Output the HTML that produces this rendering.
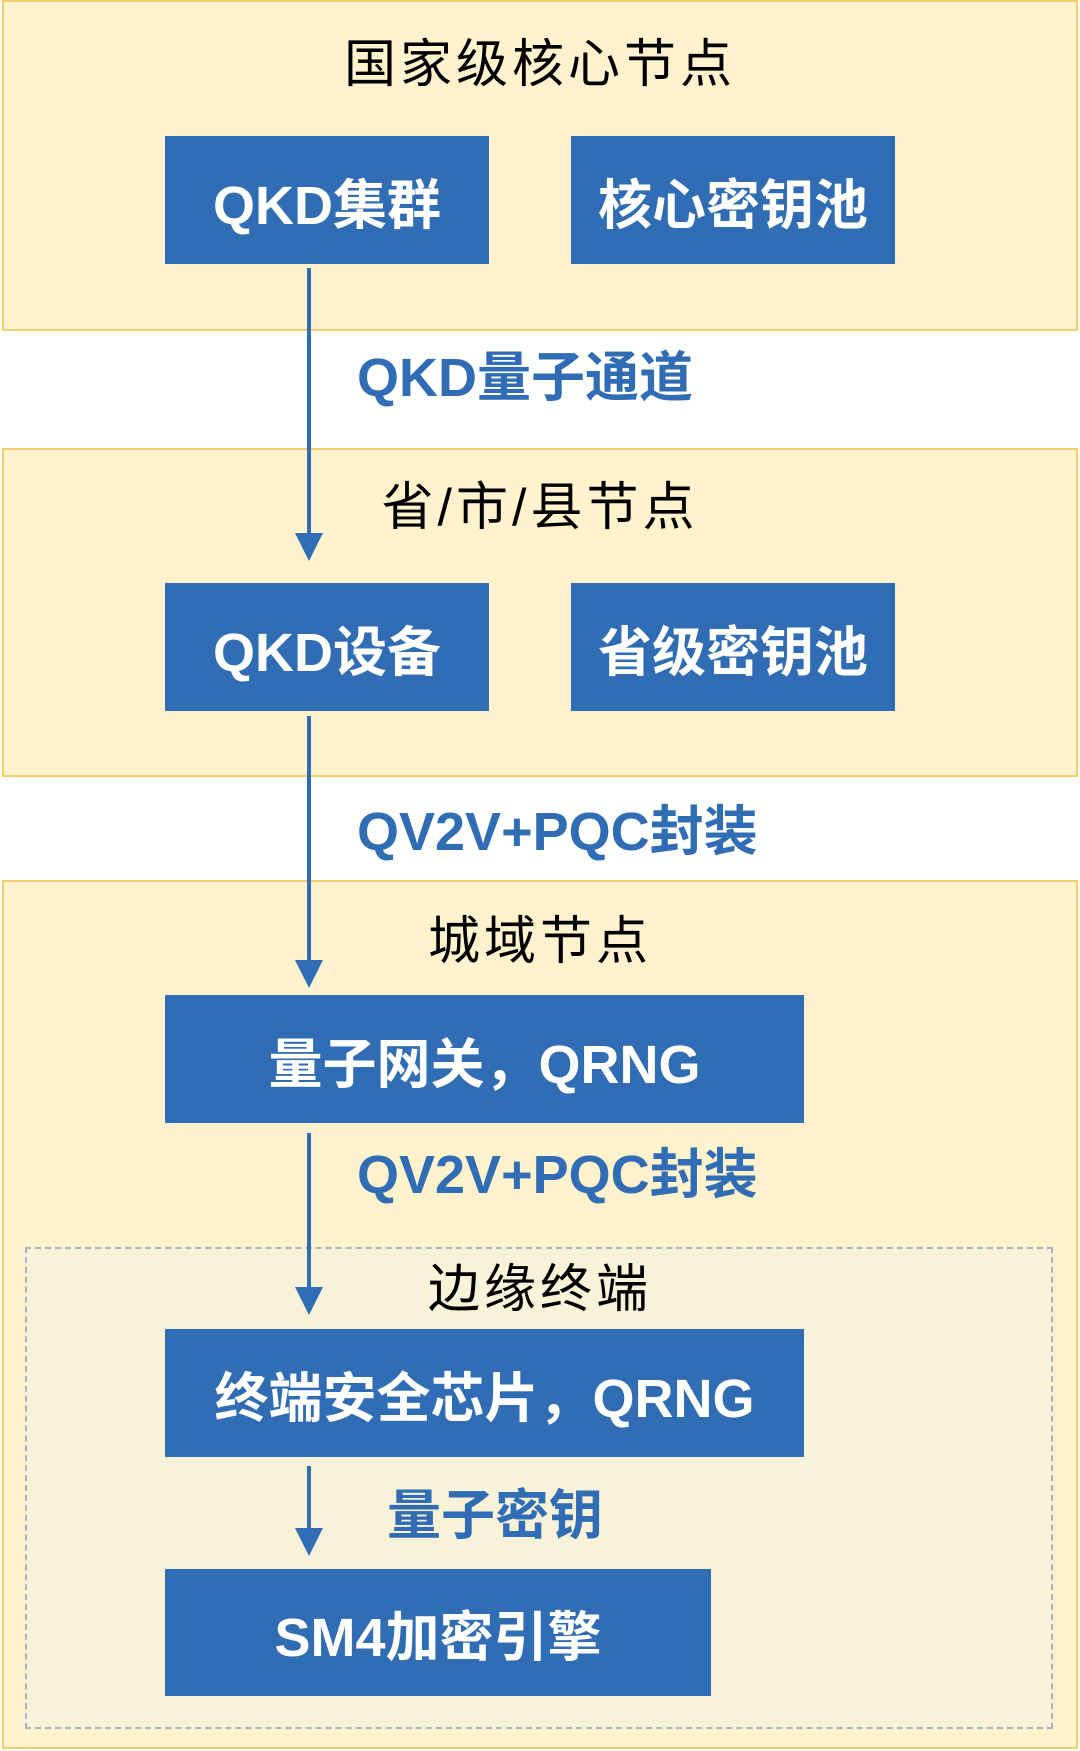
<!DOCTYPE html>
<html><head><meta charset="utf-8"><style>
body{margin:0;width:1080px;height:1751px;background:#fff;position:relative;overflow:hidden;font-family:"Liberation Sans","Noto Sans CJK SC",sans-serif}
.a{position:absolute;box-sizing:border-box}
.zone{background:#fff2cc;border:2px solid #f2cf6b}
.b{background:#316db4;color:#fff;font-weight:bold;font-size:54px;display:flex;align-items:center;justify-content:center}
.t{color:#000;font-size:52px;text-align:center;width:1080px;left:0;letter-spacing:4px;line-height:60px}
.l{color:#316db4;font-weight:bold;font-size:54px;line-height:60px;white-space:nowrap}
</style></head><body>
<div class="a zone" style="left:2px;top:0;width:1076px;height:331px"></div>
<div class="a zone" style="left:2px;top:448px;width:1076px;height:329px"></div>
<div class="a zone" style="left:2px;top:880px;width:1076px;height:869px"></div>
<div class="a" style="left:25px;top:1247px;width:1028px;height:482px;background:#f8f3d8;border:2px dashed #a8b4bc"></div>

<div class="a t" style="top:35px;left:0">国家级核心节点</div>
<div class="a t" style="top:478px">省/市/县节点</div>
<div class="a t" style="top:912px">城域节点</div>
<div class="a t" style="top:1260px">边缘终端</div>

<div class="a b" style="left:165px;top:136px;width:324px;height:128px">QKD集群</div>
<div class="a b" style="left:571px;top:136px;width:324px;height:128px">核心密钥池</div>
<div class="a b" style="left:165px;top:583px;width:324px;height:128px">QKD设备</div>
<div class="a b" style="left:571px;top:583px;width:324px;height:128px">省级密钥池</div>
<div class="a b" style="left:165px;top:995px;width:639px;height:128px">量子网关，QRNG</div>
<div class="a b" style="left:165px;top:1329px;width:639px;height:128px">终端安全芯片，QRNG</div>
<div class="a b" style="left:165px;top:1569px;width:546px;height:127px">SM4加密引擎</div>

<div class="a l" style="left:357px;top:348px">QKD量子通道</div>
<div class="a l" style="left:357px;top:802px">QV2V+PQC封装</div>
<div class="a l" style="left:357px;top:1145px">QV2V+PQC封装</div>
<div class="a l" style="left:387px;top:1486px">量子密钥</div>

<svg class="a" style="left:0;top:0" width="1080" height="1751">
<g stroke="#316db4" stroke-width="4" fill="#316db4">
<line x1="309" y1="268" x2="309" y2="535"/>
<polygon points="295,533 323,533 309,561" stroke="none"/>
<line x1="309" y1="716" x2="309" y2="962"/>
<polygon points="295,960 323,960 309,988" stroke="none"/>
<line x1="309" y1="1133" x2="309" y2="1289"/>
<polygon points="295,1287 323,1287 309,1315" stroke="none"/>
<line x1="309" y1="1466" x2="309" y2="1530"/>
<polygon points="295,1528 323,1528 309,1556" stroke="none"/>
</g></svg>
</body></html>
